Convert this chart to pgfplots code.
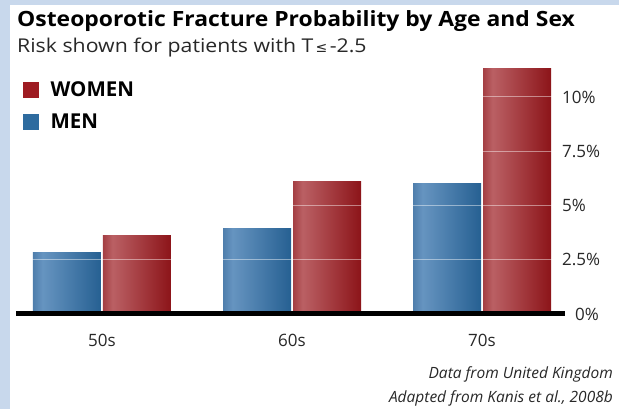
\documentclass[border=0pt]{standalone}
\usepackage{pgfplots}
\pgfplotsset{compat=1.18}
\usepackage{fontspec}
\setmainfont{Open Sans}
\newfontfamily\titlefont{Open Sans}[FakeStretch=1.09]
\newfontfamily\subfont{Open Sans}[FakeStretch=1.12]
\newfontfamily\symfont{DejaVu Sans}

\definecolor{bandblue}{RGB}{200,216,236}
\definecolor{legred}{RGB}{158,27,34}
\definecolor{legblue}{RGB}{46,107,159}
\definecolor{rA}{RGB}{164,62,67}
\definecolor{rB}{RGB}{186,96,100}
\definecolor{rC}{RGB}{140,20,25}
\definecolor{bA}{RGB}{78,126,172}
\definecolor{bB}{RGB}{102,148,192}
\definecolor{bC}{RGB}{38,96,146}
\definecolor{txt}{RGB}{40,40,40}

\pgfdeclarehorizontalshading{redbar}{100bp}{color(0bp)=(rA); color(25bp)=(rA); color(32bp)=(rB); color(75bp)=(rC); color(100bp)=(rC)}
\pgfdeclarehorizontalshading{bluebar}{100bp}{color(0bp)=(bA); color(25bp)=(bA); color(32bp)=(bB); color(75bp)=(bC); color(100bp)=(bC)}

\pgfplotsset{
  women/.style={ybar, bar width=68pt, bar shift=35pt, draw=none, shading=redbar, forget plot},
  men/.style={ybar, bar width=68pt, bar shift=-35pt, draw=none, shading=bluebar, forget plot},
}

\begin{document}
\begin{tikzpicture}[x=1pt,y=1pt]
\useasboundingbox (0,0) rectangle (619,409);
\fill[white] (0,0) rectangle (619,409);
\fill[bandblue] (0,0) rectangle (10,409);
\fill[bandblue] (0,404) rectangle (619,409);

\node[anchor=base west, inner sep=0pt, text=black, font=\titlefont\fontsize{21}{24}\selectfont\bfseries]
  at (17,382) {Osteoporotic Fracture Probability by Age and Sex};
\node[anchor=base west, inner sep=0pt, text=txt, font=\subfont\fontsize{19}{22}\selectfont]
  at (17,356) {Risk shown for patients with T{\symfont\fontsize{14}{16}\selectfont\,≤\,}-2.5};

\begin{axis}[
  at={(16pt,95pt)}, anchor=south west, scale only axis,
  width=549pt, height=260.4pt,
  xmin=-0.4526, xmax=2.4368, ymin=0, ymax=12,
  axis line style={draw=none},
  major tick length=0pt,
  xtick={0,1,2}, xticklabels={50s,60s,70s},
  ytick={2.5,5,7.5,10}, yticklabels={2.5\%,5\%,7.5\%,10\%},
  extra y ticks={0}, extra y tick labels={0\%},
  extra y tick style={yticklabel style={xshift=13pt},
    grid style={black, line width=5pt, opacity=1}},
  yticklabel pos=right,
  yticklabel style={anchor=west, inner sep=0pt, xshift=-3pt},
  xticklabel style={anchor=base, inner sep=0pt, yshift=-33pt},
  tick label style={text=txt, font=\fontsize{17}{20}\selectfont},
  ymajorgrids, grid style={white, opacity=0.45, line width=1pt},
  axis on top,
  legend style={at={(0.01275,0.8948)}, anchor=north west, draw=none, fill=none,
    inner sep=0pt, row sep=16pt, font=\fontsize{20.5}{23}\selectfont\bfseries,
    nodes={inner sep=0pt, text=black}, cells={anchor=west}},
]
\addlegendimage{legend image code/.code={\fill[legred] (0pt,-7.5pt) rectangle (15pt,7.5pt); \path (27pt,0pt);}}
\addlegendentry{WOMEN}
\addlegendimage{legend image code/.code={\fill[legblue] (0pt,-7.5pt) rectangle (15pt,7.5pt); \path (27pt,0pt);}}
\addlegendentry{MEN}
% women, one bar each so every bar gets its own shading
\addplot[women] coordinates {(0,3.6)};
\addplot[women] coordinates {(1,6.1)};
\addplot[women] coordinates {(2,11.3)};
% men
\addplot[men] coordinates {(0,2.85)};
\addplot[men] coordinates {(1,3.95)};
\addplot[men] coordinates {(2,6.0)};
\end{axis}

\node[anchor=base east, inner sep=0pt, text=txt, font=\fontsize{15.5}{18}\selectfont\itshape]
  at (613,30) {Data from United Kingdom};
\node[anchor=base east, inner sep=0pt, text=txt, font=\fontsize{15.5}{18}\selectfont\itshape]
  at (613,6) {Adapted from Kanis et al., 2008b};
\end{tikzpicture}
\end{document}
